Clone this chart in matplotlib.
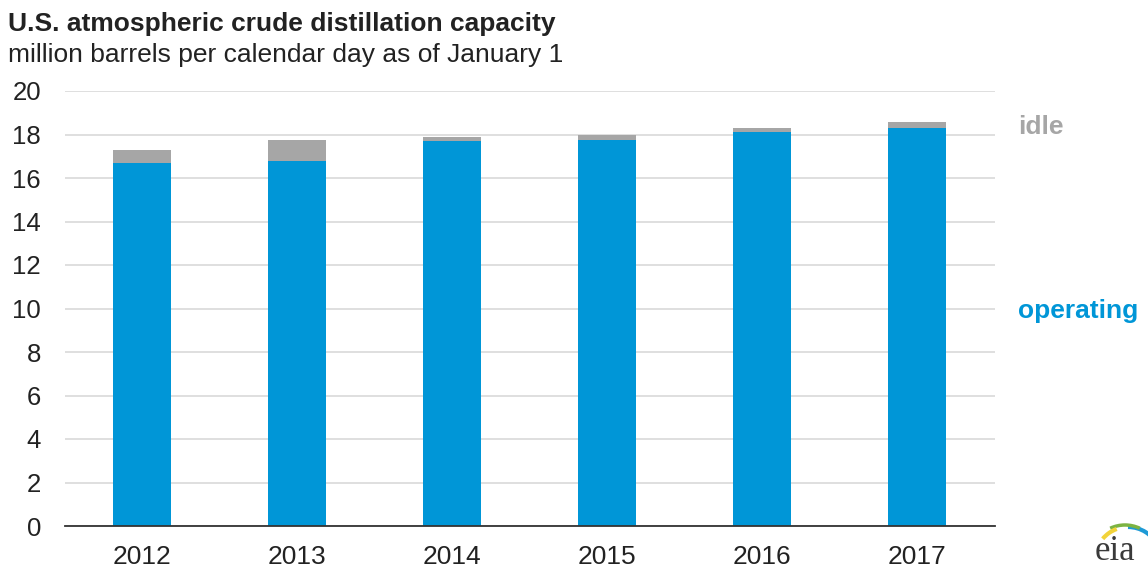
import matplotlib
matplotlib.use("Agg")
import matplotlib.pyplot as plt
from matplotlib.patches import Arc

years = ["2012", "2013", "2014", "2015", "2016", "2017"]
operating = [16.70, 16.78, 17.70, 17.76, 18.12, 18.31]
idle = [0.61, 0.98, 0.18, 0.20, 0.17, 0.27]
yticks = [0, 2, 4, 6, 8, 10, 12, 14, 16, 18, 20]

BLUE = "#0096D7"
GREY = "#A6A6A6"
TXT = "#222222"

plt.rcParams['font.family'] = ['Liberation Sans', 'DejaVu Sans']

W, H = 1148, 569
fig = plt.figure(figsize=(W / 100, H / 100), dpi=100)
ax = fig.add_axes([64.5 / W, 1 - 526 / H, (994.5 - 64.5) / W, (526 - 91) / H])

x = list(range(len(years)))
ax.bar(x, operating, width=0.37, color=BLUE, zorder=3)
ax.bar(x, idle, bottom=operating, width=0.37, color=GREY, zorder=3)

ax.set_xlim(-0.5, len(years) - 0.5)
ax.set_ylim(0, 20)
ax.set_yticks(yticks)
ax.set_yticklabels([str(v) for v in yticks])
ax.set_xticks(x)
ax.set_xticklabels(years)
ax.yaxis.grid(True, color="#D9D9D9", linewidth=1.2, zorder=0)
for s in ["top", "right", "left"]:
    ax.spines[s].set_visible(False)
ax.spines["bottom"].set_color("#333333")
ax.spines["bottom"].set_linewidth(1.3)
ax.spines["bottom"].set_zorder(4)
ax.tick_params(axis="y", length=0, pad=17, labelsize=18.5, labelcolor=TXT)
ax.tick_params(axis="x", length=0, pad=14, labelsize=19, labelcolor=TXT)

fig.text(8 / W, 1 - 31 / H, "U.S. atmospheric crude distillation capacity",
         fontsize=19, fontweight="bold", color=TXT, ha="left", va="baseline")
fig.text(8 / W, 1 - 62 / H, "million barrels per calendar day as of January 1",
         fontsize=19, color=TXT, ha="left", va="baseline")

fig.text(1018 / W, 1 - 127 / H, "idle", fontsize=19, fontweight="bold",
         color=GREY, ha="left", va="center")
fig.text(1018 / W, 1 - 311 / H, "operating", fontsize=19, fontweight="bold",
         color=BLUE, ha="left", va="center")

# eia logo (pixel-based little axes: x 1080..1148, y from bottom 0..60)
lax = fig.add_axes([1080 / W, 0, 68 / W, 60 / H])
lax.set_xlim(1080, 1148)
lax.set_ylim(0, 60)
lax.axis("off")
lax.text(1095, 0.8, "eia", fontsize=25, family=["Liberation Serif", "DejaVu Serif"],
         color="#3a3a3a", ha="left", va="bottom")
lax.add_patch(Arc((1128, 9), 66, 66, theta1=25, theta2=90, color="#1E9AD6", lw=3))
lax.add_patch(Arc((1125, 9), 70, 70, theta1=65, theta2=115, color="#7CB342", lw=2.5))
lax.add_patch(Arc((1128, 9), 66, 66, theta1=110, theta2=140, color="#F2D33A", lw=3))

fig.savefig("out.png", dpi=100)
